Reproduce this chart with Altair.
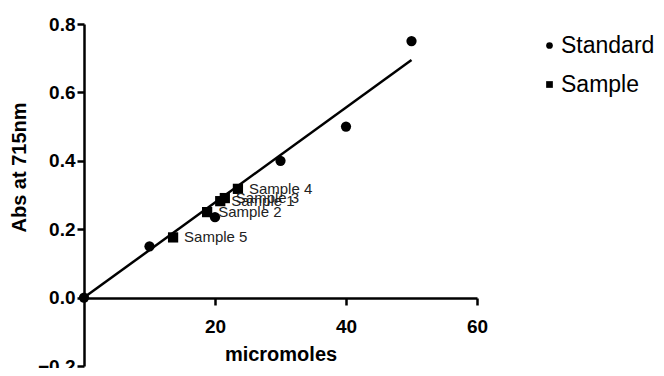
import altair as alt
import pandas as pd

# Standards
std_x = [0, 10, 20, 30, 40, 50]
std_y = [0.0, 0.15, 0.235, 0.40, 0.50, 0.75]

# Samples
sample_names = ["Sample 1", "Sample 2", "Sample 3", "Sample 4", "Sample 5"]
sample_x = [20.8, 18.8, 21.5, 23.5, 13.6]
sample_y = [0.282, 0.25, 0.291, 0.318, 0.176]

# Fitted line endpoints
fit_x = [0, 50]
fit_y = [0.0, 0.695]

pts = pd.DataFrame({
    "x": std_x + sample_x,
    "y": std_y + sample_y,
    "series": ["Standard"] * len(std_x) + ["Sample"] * len(sample_x),
    "name": [""] * len(std_x) + sample_names,
})
fit = pd.DataFrame({"x": fit_x, "y": fit_y})
labels = pts[pts["series"] == "Sample"]

FONT = "Liberation Sans"

xs = alt.Scale(domain=[0, 60], nice=False, zero=False)
ys = alt.Scale(domain=[-0.2, 0.8], nice=False, zero=False)

line = alt.Chart(fit).mark_line(color="black", strokeWidth=2.5).encode(
    x=alt.X("x:Q", scale=xs,
            axis=alt.Axis(title="micromoles", values=[20, 40, 60], offset=-68,
                          labelPadding=12, titlePadding=8, grid=False)),
    y=alt.Y("y:Q", scale=ys,
            axis=alt.Axis(title="Abs at 715nm", values=[-0.2, 0, 0.2, 0.4, 0.6, 0.8],
                          format=".1f", grid=False, titleX=-65, titleY=143,
                          titleAlign="center", titleBaseline="middle", titleAngle=270)),
)

points = alt.Chart(pts).mark_point(filled=True, color="black", opacity=1, size=105).encode(
    x=alt.X("x:Q", scale=xs),
    y=alt.Y("y:Q", scale=ys),
    shape=alt.Shape("series:N",
                    scale=alt.Scale(domain=["Standard", "Sample"], range=["circle", "square"]),
                    legend=alt.Legend(title=None, orient="none", legendX=454, legendY=10,
                                      labelFontSize=23, labelFont=FONT, symbolSize=45,
                                      symbolFillColor="black", symbolStrokeColor="black",
                                      rowPadding=15, labelOffset=0, padding=0,
                                      labelColor="black")),
)

text = alt.Chart(labels).mark_text(align="left", dx=11, fontSize=15, font=FONT,
                                   color="#222222").encode(
    x=alt.X("x:Q", scale=xs),
    y=alt.Y("y:Q", scale=ys),
    text="name:N",
)

chart = (line + points + text).properties(
    width=393, height=342,
    autosize=alt.AutoSizeParams(type="none"),
    padding={"left": 76, "top": 16, "right": 179, "bottom": 2},
).configure_view(stroke=None).configure_axis(
    domainColor="black", domainWidth=2.5, tickColor="black", tickWidth=2.5, tickSize=7,
    labelFont=FONT, labelFontSize=19, labelFontWeight="bold", labelColor="black",
    titleFont=FONT, titleFontSize=20, titleFontWeight="bold", titleColor="black",
    labelFlush=False, labelOverlap=False,
)

chart.save("out.html", embed_options={"renderer": "svg", "actions": False})
